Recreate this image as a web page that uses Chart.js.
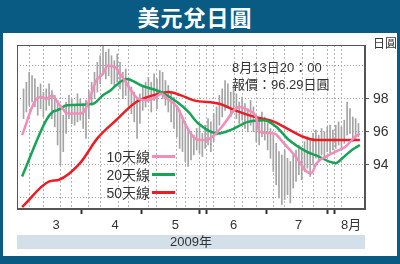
<!DOCTYPE html>
<html>
<head>
<meta charset="utf-8">
<script src="https://cdn.jsdelivr.net/npm/chart.js@4/dist/chart.umd.min.js"></script>
<style>
  body { margin: 0; width: 400px; height: 264px; background: #0a5b84; position: relative; overflow: hidden;
         font-family: "Liberation Sans", "Noto Sans CJK TC", sans-serif; }
  #title { position: absolute; left: 0; top: 0; width: 390px; height: 33px; line-height: 33px; text-align: center;
           color: #fff; font: bold 22px "Noto Sans CJK TC", sans-serif; letter-spacing: 1px; }
  #panel { position: absolute; left: 3px; top: 33px; width: 394px; height: 223px; background: #fff; }
  #panel canvas { position: absolute; left: 0; top: 0; }
  #note { position: absolute; left: 229px; top: 26px; font-size: 13px; line-height: 17px; color: #333; }
  .lg { position: absolute; left: 93px; height: 18px; display: flex; align-items: center; font-size: 14px; color: #333; }
  .lg span { width: 54px; text-align: right; }
  .lg i { display: block; width: 23px; height: 3px; margin-left: 2px; }
</style>
</head>
<body>
<div id="title">美元兌日圓</div>
<div id="panel">
  <canvas id="chart" width="394" height="223"></canvas>
  <div id="note">8月13日20：00<br>報價：96.29日圓</div>
</div>
<script>
// daily high / low, 2 Mar - 13 Aug 2009 (trading days)
const highs = [
  98.6, 99.0, 99.6, 99.4, 99.2, 98.7, 98.9, 98.4, 98.6, 98.9, 98.5, 98.2, 97.9, 97.4, 97.0, 97.8, 98.2, 98.0, 97.6, 98.3, 98.0, 97.7,
  97.9, 98.5, 99.0, 99.6, 100.2, 100.6, 101.2, 100.8, 101.0, 100.6, 100.3, 100.7, 100.2, 99.6, 99.8, 99.2, 98.7, 98.4, 98.0, 98.3, 98.8, 99.0,
  99.3, 99.0, 99.5, 99.2, 99.7, 99.6, 99.1, 98.8, 98.4, 98.1, 97.6, 97.3, 96.9, 96.5, 96.2, 96.0, 95.8, 96.2, 96.3, 95.9, 96.4,
  96.8, 96.6, 97.1, 97.5, 98.2, 98.6, 99.1, 98.9, 98.4, 98.8, 98.3, 97.8, 98.1, 97.7, 97.4, 97.9, 97.5, 97.0, 96.8, 97.2, 96.9, 96.5,
  96.2, 95.8, 95.3, 94.8, 94.6, 94.9, 94.4, 94.2, 94.6, 94.9, 95.2, 95.0, 95.4, 95.7, 95.5, 95.9, 96.1, 95.8, 96.2, 96.0, 96.3, 96.4, 96.1,
  96.4, 96.6, 96.3, 96.7, 97.8, 97.4, 96.9, 96.8, 96.5
];
const lows = [
  96.8, 97.2, 97.6, 97.8, 97.5, 97.0, 97.4, 96.9, 97.3, 97.6, 96.8, 96.3, 95.2, 94.0, 94.8, 95.9, 96.8, 96.5, 96.4, 96.6, 96.7, 96.2,
  95.6, 96.8, 97.6, 98.0, 98.4, 98.9, 99.5, 99.2, 99.4, 98.9, 98.7, 99.0, 98.6, 98.0, 98.2, 97.6, 97.1, 96.6, 95.6, 96.5, 97.3, 97.5,
  97.8, 97.2, 97.9, 97.4, 98.2, 98.0, 97.6, 97.2, 96.6, 96.2, 95.7, 95.0, 94.8, 94.2, 93.9, 94.3, 94.6, 94.9, 94.7, 94.5, 95.0,
  95.2, 94.8, 95.4, 95.8, 96.4, 96.9, 97.3, 97.5, 96.9, 97.2, 96.8, 96.5, 96.7, 96.2, 96.0, 96.4, 96.0, 95.4, 95.2, 95.7, 95.5, 94.9,
  94.4, 93.6, 92.8, 92.0, 91.6, 91.9, 92.2, 91.7, 92.6, 93.0, 93.4, 93.1, 93.6, 93.8, 93.3, 94.0, 94.4, 94.2, 94.6, 94.5, 94.8, 94.7, 94.9,
  95.0, 95.2, 94.9, 95.3, 95.8, 95.9, 95.4, 95.6, 95.7
];

// moving averages (day index, value)
const ma10Days = [-0.5, 4.6, 6.3, 8.0, 10.2, 11.9, 14.2, 15.3, 19.9, 21.6, 23.3, 25.6, 27.9, 29.6, 32.3, 34.1, 36.4, 38.7, 40.4,
  43.8, 46.7, 48.4, 50.7, 54.1, 57.5, 59.8, 62.1, 64.4, 67.8, 71.2, 74.1, 75.8, 79.2, 81.9, 83.1, 88.3, 91.2, 96.3, 99.7, 101.4,
  103.2, 106.6, 110.0, 113.4, 116.8, 118.5];
const ma10 = [95.8, 98.0, 98.1, 98.0, 98.2, 97.8, 97.3, 97.1, 97.1, 97.3, 98.0, 99.1, 99.5, 100.0, 99.9, 99.5, 98.9, 98.3, 98.0,
  97.9, 98.1, 98.3, 98.0, 97.5, 96.3, 95.7, 95.5, 95.5, 95.9, 96.6, 97.3, 97.5, 97.3, 96.9, 96.0, 95.9, 95.4, 94.4, 93.6, 93.5,
  94.1, 94.5, 94.8, 95.1, 95.7, 95.9];
const ma20Days = [-0.5, 8.0, 10.2, 11.9, 15.3, 24.5, 27.9, 30.6, 31.9, 34.8, 36.4, 41.5, 48.4, 54.1, 58.1, 61.6, 68.4, 72.8,
  79.0, 84.7, 89.0, 93.5, 99.7, 104.1, 107.7, 110.0, 112.3, 115.7, 118.5];
const ma20 = [93.3, 96.7, 97.2, 97.3, 97.6, 97.7, 98.2, 98.5, 98.7, 99.1, 99.2, 98.8, 98.4, 97.8, 97.2, 96.5, 95.9, 96.1,
  96.6, 96.7, 96.3, 95.5, 94.8, 94.5, 94.2, 94.1, 94.4, 94.9, 95.2];
const ma50Days = [-0.5, 9.1, 12.5, 19.9, 26.0, 32.6, 39.7, 47.6, 51.0, 55.5, 60.0, 68.9, 74.6, 81.4, 88.3, 93.9, 98.5, 103.1, 118.5];
const ma50 = [91.45, 93.0, 93.1, 94.1, 95.6, 96.7, 97.8, 98.3, 98.4, 98.2, 97.9, 97.7, 97.3, 96.9, 96.6, 96.1, 95.7, 95.5, 95.5];

const seriesNames = ['10天線', '20天線', '50天線'];
const seriesColors = ['#f28dbb', '#17a456', '#ec1c24'];

const monthPos = [11.5, 32.3, 53.5, 74.0, 96.9, 115.4];
const monthLabels = ['3', '4', '5', '6', '7', '8月'];
const monthEdges = [21.5, 43.5, 64.5, 86.5, 109.5];
const weekLines = [];
for (let v = 4.5; v < 118; v += 5) weekLines.push(v);

const yMin = 91.33, yMax = 101.25;
const yGrid = [92, 94, 96, 98, 100];
const yLabeled = [94, 96, 98];
const yUnit = '日圓';
const yearLabel = '2009年';

// legend rows as html
const legendTops = [114, 132, 150];
seriesNames.forEach((name, k) => {
  const row = document.createElement('div');
  row.className = 'lg';
  row.style.top = legendTops[k] + 'px';
  row.innerHTML = '<span>' + name + '</span><i style="background:' + seriesColors[k] + '"></i>';
  document.getElementById('panel').appendChild(row);
});

Chart.defaults.font.family = '"Liberation Sans", "Noto Sans CJK TC", sans-serif';
Chart.defaults.color = '#333';

const framePlugin = {
  id: 'frame',
  beforeDraw(chart) {
    const { ctx, chartArea } = chart;
    const xs = chart.scales.x;
    ctx.save();
    ctx.fillStyle = '#d3dfe9';
    ctx.fillRect(chartArea.left, xs.bottom - 21, chartArea.right - chartArea.left, 14);
    ctx.restore();
  },
  afterDraw(chart) {
    const { ctx, chartArea } = chart;
    ctx.save();
    ctx.strokeStyle = '#555';
    ctx.lineWidth = 1;
    ctx.strokeRect(chartArea.left + 0.5, chartArea.top + 0.5, chartArea.right - chartArea.left - 1, chartArea.bottom - chartArea.top - 1);
    ctx.restore();
  }
};

const xTicks = [...weekLines, ...monthEdges, ...monthPos].sort((a, b) => a - b);

function lineSet(days, vals, k) {
  return {
    type: 'line',
    label: seriesNames[k],
    data: days.map((d, j) => ({ x: d, y: vals[j] })),
    borderColor: seriesColors[k],
    borderWidth: 2.5,
    pointRadius: 0,
    cubicInterpolationMode: 'monotone',
    order: k + 1
  };
}

new Chart(document.getElementById('chart'), {
  type: 'bar',
  data: {
    datasets: [
      {
        label: 'range',
        data: highs.map((h, i) => ({ x: i, y: [lows[i], h] })),
        backgroundColor: '#a4a4a4',
        barThickness: 1,
        grouped: false,
        order: 9
      },
      lineSet(ma10Days, ma10, 0),
      lineSet(ma20Days, ma20, 1),
      lineSet(ma50Days, ma50, 2)
    ]
  },
  options: {
    responsive: false,
    animation: false,
    devicePixelRatio: 1,
    layout: { padding: { left: 14, top: 12, right: 0, bottom: 0 } },
    plugins: { legend: { display: false }, tooltip: { enabled: false } },
    scales: {
      x: {
        type: 'linear',
        min: -0.5,
        max: 118.5,
        afterBuildTicks: (s) => { s.ticks = xTicks.map(v => ({ value: v })); },
        afterFit: (s) => { s.height = 47; },
        grid: {
          color: (c) => (c.tick && weekLines.includes(c.tick.value)) ? '#b4b4b4' : 'rgba(0,0,0,0)',
          tickColor: (c) => (c.tick && monthEdges.includes(c.tick.value)) ? '#333' : 'rgba(0,0,0,0)',
          tickWidth: 2,
          tickLength: 5
        },
        border: { color: '#555', dash: [2, 2] },
        ticks: {
          autoSkip: false,
          maxRotation: 0,
          padding: 4,
          font: { size: 13 },
          callback: (v) => {
            const k = monthPos.indexOf(v);
            return k >= 0 ? monthLabels[k] : '';
          }
        },
        title: { display: true, text: yearLabel, font: { size: 13 }, padding: { top: 0, bottom: 6 } }
      },
      y: {
        type: 'linear',
        position: 'right',
        min: yMin,
        max: yMax,
        afterBuildTicks: (s) => { s.ticks = [...yGrid, yMax].map(v => ({ value: v })); },
        afterFit: (s) => { s.width = 32; },
        grid: {
          color: (c) => (c.tick && yGrid.includes(c.tick.value)) ? '#a8a8a8' : 'rgba(0,0,0,0)',
          tickColor: (c) => (c.tick && yLabeled.includes(c.tick.value)) ? '#555' : 'rgba(0,0,0,0)',
          tickLength: 4
        },
        border: { color: '#555', dash: [1, 2] },
        ticks: {
          padding: 4,
          font: (c) => ({ size: (c.tick && c.tick.value === yMax) ? 12 : 14 }),
          callback: (v) => yLabeled.includes(v) ? String(v) : (v === yMax ? yUnit : '')
        }
      }
    }
  },
  plugins: [framePlugin]
});
</script>
</body>
</html>
